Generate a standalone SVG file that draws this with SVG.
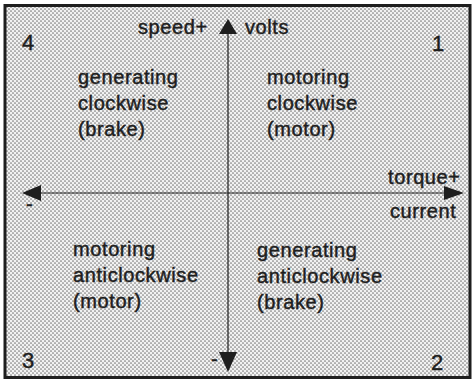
<svg xmlns="http://www.w3.org/2000/svg" width="474" height="382" viewBox="0 0 474 382">
  <defs>
    <pattern id="stipple" patternUnits="userSpaceOnUse" width="4" height="4">
      <rect width="4" height="4" fill="#f2f2f2"/>
      <circle cx="1" cy="1" r="0.85" fill="#7a7a7a"/>
      <circle cx="3" cy="3" r="0.85" fill="#7a7a7a"/>
    </pattern>
  </defs>
  <style>
    text { font-family: "Liberation Sans", Arial, Helvetica, sans-serif; fill: #1e1e1e; stroke: #1e1e1e; stroke-width: 0.45px; }
    .lbl { font-size: 20px; letter-spacing: 0.6px; }
    .num { font-size: 22px; }
    .axis { stroke: #1e1e1e; stroke-width: 1.2; fill: none; }
    .head { fill: #1e1e1e; }
  </style>
  <rect x="0" y="0" width="474" height="382" fill="#ffffff"/>
  <rect id="frame" x="5" y="5.5" width="465" height="372" fill="url(#stipple)" stroke="#1e1e1e" stroke-width="3"/>

  <g id="connectors">
    <line class="axis" x1="228" y1="30" x2="228" y2="358"/>
    <polygon class="head" points="228,19 219,34 237,34"/>
    <polygon class="head" points="228,372 219,352 237,352"/>
    <line class="axis" x1="34" y1="193" x2="452" y2="193"/>
    <polygon class="head" points="22,193 41,185 41,201"/>
    <polygon class="head" points="464,193 444,186 444,200"/>
  </g>

  <g id="axis-labels">
    <text class="lbl" x="138" y="34">speed+</text>
    <text class="lbl" x="245" y="34">volts</text>
    <text class="lbl" x="388" y="184">torque+</text>
    <text class="lbl" x="390" y="218">current</text>
    <text class="lbl" x="26" y="211">-</text>
    <text class="lbl" x="211" y="366">-</text>
  </g>

  <g id="q1">
    <text class="num" x="432" y="51">1</text>
    <text class="lbl" x="267" y="84">motoring</text>
    <text class="lbl" x="267" y="110">clockwise</text>
    <text class="lbl" x="267" y="136">(motor)</text>
  </g>
  <g id="q2">
    <text class="num" x="431" y="370">2</text>
    <text class="lbl" x="257" y="257">generating</text>
    <text class="lbl" x="257" y="283">anticlockwise</text>
    <text class="lbl" x="257" y="309">(brake)</text>
  </g>
  <g id="q3">
    <text class="num" x="22" y="368">3</text>
    <text class="lbl" x="73" y="256">motoring</text>
    <text class="lbl" x="73" y="282">anticlockwise</text>
    <text class="lbl" x="73" y="308">(motor)</text>
  </g>
  <g id="q4">
    <text class="num" x="22" y="50">4</text>
    <text class="lbl" x="78" y="84">generating</text>
    <text class="lbl" x="78" y="110">clockwise</text>
    <text class="lbl" x="78" y="136">(brake)</text>
  </g>
</svg>
